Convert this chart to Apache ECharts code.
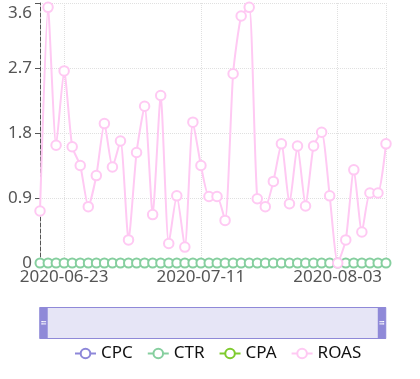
<!DOCTYPE html>
<html>
<head>
<meta charset="utf-8">
<script src="https://cdn.jsdelivr.net/npm/echarts@6/dist/echarts.min.js"></script>
<style>
html,body{margin:0;padding:0;background:#fff;}
#c{width:420px;height:379px;}
</style>
</head>
<body>
<div id="c"></div>
<script>
var dates = [
  '2020-06-20','2020-06-21','2020-06-22','2020-06-23','2020-06-24','2020-06-25','2020-06-26','2020-06-27',
  '2020-06-28','2020-06-29','2020-06-30','2020-07-01','2020-07-02','2020-07-03','2020-07-05','2020-07-06',
  '2020-07-07','2020-07-08','2020-07-09','2020-07-10','2020-07-11','2020-07-12','2020-07-13','2020-07-14',
  '2020-07-15','2020-07-16','2020-07-17','2020-07-20','2020-07-21','2020-07-22','2020-07-23','2020-07-24',
  '2020-07-27','2020-07-28','2020-07-29','2020-07-30','2020-07-31','2020-08-03','2020-08-04','2020-08-05',
  '2020-08-06','2020-08-07','2020-08-08','2020-08-09'
];
var cpc = [];
var cpa = [];
var ctr = [0,0,0,0,0,0,0,0,0,0,0,0,0,0,0,0,0,0,0,0,0,0,0,0,0,0,0,0,0,0,0,0,0,0,0,0,0,0,0,0,0,0,0,0];
var roas = [0.72,3.54,1.63,2.66,1.61,1.35,0.78,1.21,1.93,1.33,1.69,0.32,1.53,2.17,0.67,2.32,0.27,0.93,0.22,1.95,
  1.35,0.92,0.92,0.59,2.62,3.42,3.54,0.89,0.78,1.13,1.65,0.82,1.62,0.79,1.62,1.81,0.93,0,0.32,1.29,
  0.43,0.97,0.97,1.65];
var yTicks = [0, 0.9, 1.8, 2.7, 3.6];

var labelIdx = [3, 20, 37];
var tickIdx = [3, 20, 37, 43];

var FONT = 'Noto Sans';
var chart = echarts.init(document.getElementById('c'), null, {renderer: 'canvas'});
chart.setOption({
  animation: false,
  textStyle: {fontFamily: FONT},
  grid: {left: 40, right: 34, top: 3, bottom: 116, containLabel: false},
  xAxis: {
    type: 'category',
    data: dates,
    boundaryGap: false,
    axisLine: {lineStyle: {color: '#666'}},
    axisTick: {length: 5, lineStyle: {color: '#666'}, interval: function (i) { return tickIdx.indexOf(i) >= 0; }},
    axisLabel: {color: '#555', fontSize: 17, fontFamily: FONT, margin: 6,
      interval: function (i) { return labelIdx.indexOf(i) >= 0; }},
    splitLine: {show: true, interval: function (i) { return tickIdx.indexOf(i) >= 0; },
      lineStyle: {color: '#e0e0e0', type: 'dotted'}}
  },
  yAxis: {
    type: 'value',
    min: yTicks[0],
    max: yTicks[yTicks.length - 1],
    interval: yTicks[1] - yTicks[0],
    axisLine: {show: true, lineStyle: {color: '#555', type: 'dashed'}},
    axisTick: {show: true, length: 5, lineStyle: {color: '#555'}},
    axisLabel: {color: '#555', fontSize: 17, fontFamily: FONT, margin: 8,
      formatter: function (v) { return v === yTicks[yTicks.length - 1] ? '{t|' + v + '}' : String(v); },
      rich: {t: {fontSize: 17, fontFamily: FONT, color: '#555', padding: [20, 0, 0, 0]}}},
    splitLine: {lineStyle: {color: '#e0e0e0', type: 'dotted'}}
  },
  dataZoom: [{
    type: 'slider',
    start: 1,
    end: 99,
    left: 39,
    right: 34,
    top: 307,
    height: 32,
    showDetail: false,
    showDataShadow: false,
    brushSelect: false,
    moveHandleSize: 0,
    backgroundColor: 'rgba(0,0,0,0)',
    borderColor: '#8f89d8',
    fillerColor: '#e6e5f6',
    handleIcon: 'path://M0,0H10V40H0Z M2,18V19.6H8V18Z M2,21V22.6H8V21Z',
    handleSize: '100%',
    handleStyle: {color: '#8f89d8', borderColor: '#8f89d8', borderWidth: 0}
  }],
  legend: {
    left: 69,
    top: 340,
    itemWidth: 21,
    itemHeight: 12,
    itemGap: 14,
    textStyle: {fontSize: 17, color: '#111', fontFamily: FONT},
    data: ['CPC', 'CTR', 'CPA', 'ROAS']
  },
  series: [
    {name: 'CPC', type: 'line', data: cpc, symbol: 'emptyCircle', symbolSize: 8, showAllSymbol: true,
      itemStyle: {color: '#8d87d9'}, lineStyle: {color: '#8d87d9'}},
    {name: 'CTR', type: 'line', data: ctr, symbol: 'emptyCircle', symbolSize: 9, showAllSymbol: true,
      itemStyle: {color: '#86cf9f'}, lineStyle: {color: '#86cf9f'}},
    {name: 'CPA', type: 'line', data: cpa, symbol: 'emptyCircle', symbolSize: 8, showAllSymbol: true,
      itemStyle: {color: '#7fcb2e'}, lineStyle: {color: '#7fcb2e'}},
    {name: 'ROAS', type: 'line', data: roas, symbol: 'emptyCircle', symbolSize: 9.5, smooth: 0.2, showAllSymbol: true,
      itemStyle: {color: '#ffc9f3'}, lineStyle: {color: '#ffc9f3'}}
  ]
});
</script>
</body>
</html>
